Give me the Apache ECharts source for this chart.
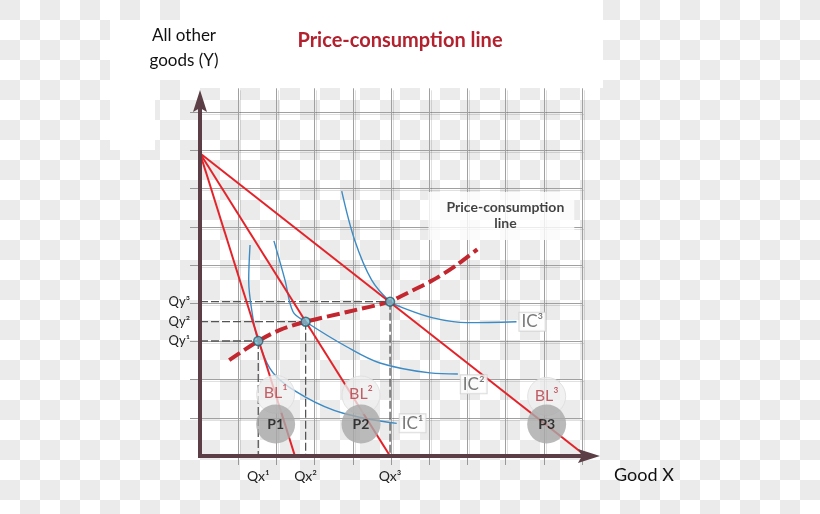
<!DOCTYPE html>
<html><head><meta charset="utf-8">
<script src="https://cdn.jsdelivr.net/npm/echarts@6/dist/echarts.min.js"></script>
<style>
html,body{margin:0;padding:0;}
body{width:820px;height:514px;overflow:hidden;position:relative;
 background:#fff repeating-conic-gradient(#fff 0 25%, #ebebeb 0 50%) 0 0/40px 40px;}
.panel{position:absolute;background:#fff;}
#chart{position:absolute;left:0;top:0;width:820px;height:514px;}
</style></head>
<body>
<div class="panel" style="left:110px;top:20px;width:90px;height:60px"></div>
<div class="panel" style="left:110px;top:80px;width:45px;height:70px"></div>
<div class="panel" style="left:200px;top:0px;width:403px;height:88px"></div>
<div id="chart"></div>
<script>
// ---- data (grid units) ----
const yIntercept = 15.85;
const xIntercepts = [4.97, 9.95, 20.2];
const tangentX = [3.05, 5.53, 9.95];
const tangentY = [6.02, 7.03, 8.08];
const qxLabels = ['Qx¹', 'Qx²', 'Qx³'];
const qyLabels = ['Qy¹', 'Qy²', 'Qy³'];
const pccX = [1.53, 3.05, 4.19, 5.53, 7.7, 9.95, 10.47, 12.2, 13.44, 14.52];
const pccY = [5.02, 6.02, 6.6, 7.03, 7.54, 8.08, 8.34, 9.21, 10.0, 10.82];
const ic1X = [2.62, 2.55, 2.79, 3.05, 3.84, 5.50, 7.50, 10.30];
const ic1Y = [11.05, 9.2, 7.12, 6.02, 4.33, 3.10, 2.24, 1.71];
const ic2X = [3.87, 4.45, 4.87, 5.53, 7.68, 9.42, 12.04, 13.5];
const ic2Y = [11.26, 9.21, 7.55, 7.03, 5.72, 4.87, 4.35, 4.29];
const ic3X = [7.42, 8.1, 8.99, 9.95, 10.47, 12.2, 13.96, 16.57];
const ic3Y = [13.87, 11.3, 9.21, 8.08, 7.82, 7.23, 6.98, 7.03];
const icNames = ['IC¹', 'IC²', 'IC³'];
const icLabelX = [10.35, 13.55, 16.62];
const icLabelY = [1.71, 3.75, 7.03];
const priceNames = ['P1', 'P2', 'P3'];
const blNames = ['BL¹', 'BL²', 'BL³'];
const circleX = [3.96, 8.43, 18.15];
const pCircleY = [1.67, 1.67, 1.67];
const blCircleY = [3.23, 3.19, 3.12];
const pccLabel = ['Price-consumption', 'line'];
const pccLabelPos = [15.78, 12.57];
const xTicks = [2, 4, 6, 8, 10, 12, 14, 16, 18, 20];
const yTicks = [2, 4, 6, 8, 10, 12, 14, 16, 18];
const xAxisEnd = 20.94;
const yAxisEnd = 19.16;

const FONT = 'Lato, "Open Sans", sans-serif';
const zip = (a, b) => a.map((v, i) => [v, b[i]]);

const series = [];
// budget lines
xIntercepts.forEach(xi => series.push({
  type: 'line', data: [[0, yIntercept], [xi, 0]], symbol: 'none', z: 4,
  lineStyle: { color: '#e3232a', width: 2 }, silent: true
}));
// dashed guides
tangentX.forEach((qx, i) => {
  const qy = tangentY[i];
  series.push({ type: 'line', data: [[0, qy], [qx, qy]], symbol: 'none', z: 2,
    lineStyle: { color: '#555', width: 1.3, type: [8, 3] } });
  series.push({ type: 'line', data: [[qx, qy], [qx, 0]], symbol: 'none', z: 2,
    lineStyle: { color: '#555', width: 1.3, type: [8, 3] } });
});
// indifference curves
[zip(ic1X, ic1Y), zip(ic2X, ic2Y), zip(ic3X, ic3Y)].forEach(d => series.push({
  type: 'line', data: d, symbol: 'none', smooth: 0.35, z: 3,
  lineStyle: { color: '#3d8bc4', width: 1.4 }
}));
// price-consumption curve
series.push({ type: 'line', data: zip(pccX, pccY), symbol: 'none', smooth: 0.3, z: 5,
  lineStyle: { color: '#c2262e', width: 4, type: [13, 5] } });
// tangency points
series.push({ type: 'scatter', data: zip(tangentX, tangentY), symbol: 'circle', symbolSize: 9, z: 6,
  itemStyle: { color: '#72bfd3', borderColor: '#2d5d6d', borderWidth: 1.5 } });
// BL circles
series.push({ type: 'scatter', data: zip(circleX, blCircleY).map((p, i) => ({ value: p, name: blNames[i] })),
  symbolSize: 38, z: 7,
  itemStyle: { color: 'rgba(238,238,238,0.97)', borderColor: '#dcdcdc', borderWidth: 1 },
  label: { show: true, position: 'inside', formatter: p => p.name, color: '#b53a44', fontSize: 16, fontFamily: FONT, offset: [0, -1] } });
// P circles
series.push({ type: 'scatter', data: zip(circleX, pCircleY).map((p, i) => ({ value: p, name: priceNames[i] })),
  symbolSize: 39, z: 8,
  itemStyle: { color: '#a9a9a9' },
  label: { show: true, position: 'inside', formatter: p => p.name, color: '#111', fontSize: 14, fontWeight: 'bold', fontFamily: FONT } });
// IC labels
series.push({ type: 'scatter', data: zip(icLabelX, icLabelY).map((p, i) => ({ value: p, name: icNames[i] })),
  symbolSize: 0, z: 9,
  label: { show: true, position: 'right', distance: 2, formatter: p => p.name, color: '#555', fontSize: 17, fontFamily: FONT,
    backgroundColor: '#fff', borderColor: '#d0d0d0', borderWidth: 1, padding: [1, 2, 0, 2] } });
// PCC label box
series.push({ type: 'scatter', data: [{ value: pccLabelPos, name: pccLabel.join('\n') }], symbolSize: 0, z: 9,
  label: { show: true, position: 'inside', formatter: p => p.name, color: '#111', fontSize: 14, fontWeight: 'bold',
    fontFamily: FONT, lineHeight: 16, backgroundColor: '#fff', padding: [8, 10, 8, 18], align: 'center' } });
// axes with arrows
series.push({ type: 'custom', data: [[0, 0]], clip: false, z: 10, silent: true,
  renderItem(params, api) {
    const o = api.coord([0, 0]);
    const xe = api.coord([xAxisEnd, 0]);
    const ye = api.coord([0, yAxisEnd]);
    const c = '#5c3f46', L = 22, H = 7;
    return { type: 'group', children: [
      { type: 'line', shape: { x1: o[0] - 2, y1: o[1], x2: xe[0] - L + 4, y2: o[1] }, style: { stroke: c, lineWidth: 4 } },
      { type: 'line', shape: { x1: o[0], y1: o[1] + 2, x2: o[0], y2: ye[1] + L - 4 }, style: { stroke: c, lineWidth: 4 } },
      { type: 'polygon', shape: { points: [[xe[0], o[1]], [xe[0] - L, o[1] - H], [xe[0] - L + 4, o[1]], [xe[0] - L, o[1] + H]] }, style: { fill: c } },
      { type: 'polygon', shape: { points: [[o[0], ye[1]], [o[0] - H, ye[1] + L], [o[0], ye[1] + L - 4], [o[0] + H, ye[1] + L]] }, style: { fill: c } }
    ] };
  } });

const gridLine = { color: '#a0a0a0', width: 1, shadowColor: 'rgba(0,0,0,0.12)', shadowOffsetX: 2, shadowOffsetY: 2, shadowBlur: 0 };
const chart = echarts.init(document.getElementById('chart'), null, { renderer: 'canvas' });
chart.setOption({
  backgroundColor: 'transparent',
  animation: false,
  title: { text: 'Price-consumption line', left: 395, top: 26, textAlign: 'center',
    textStyle: { color: '#b3212e', fontSize: 20, fontWeight: 'bold', fontFamily: FONT } },
  graphic: [
    { type: 'text', x: 184, y: 23, style: { text: 'All other\ngoods (Y)', fill: '#111', fontSize: 17, fontFamily: FONT, lineHeight: 25, align: 'center' } },
    { type: 'text', x: 614, y: 466, style: { text: 'Good X', fill: '#111', fontSize: 18, fontFamily: FONT } }
  ],
  grid: { left: 200, right: 238, top: 88.3, bottom: 58, containLabel: false },
  xAxis: { type: 'value', min: 0, max: 20, interval: 1,
    axisLine: { show: false },
    axisTick: { show: true, customValues: xTicks, length: 9, lineStyle: { color: '#999', width: 1 } },
    axisLabel: { show: true, customValues: tangentX, margin: 13, color: '#222', fontSize: 14, fontFamily: FONT,
      formatter: v => qxLabels[tangentX.indexOf(v)] },
    splitLine: { show: true, lineStyle: gridLine } },
  yAxis: { type: 'value', min: 0, max: 19.25, interval: 1,
    axisLine: { show: false },
    axisTick: { show: true, customValues: yTicks, length: 10, lineStyle: { color: '#999', width: 1 } },
    axisLabel: { show: true, customValues: tangentY, margin: 10, color: '#222', fontSize: 13, fontFamily: FONT,
      formatter: v => qyLabels[tangentY.indexOf(v)] },
    splitLine: { show: true, lineStyle: gridLine } },
  series: series
});
</script>
</body></html>
